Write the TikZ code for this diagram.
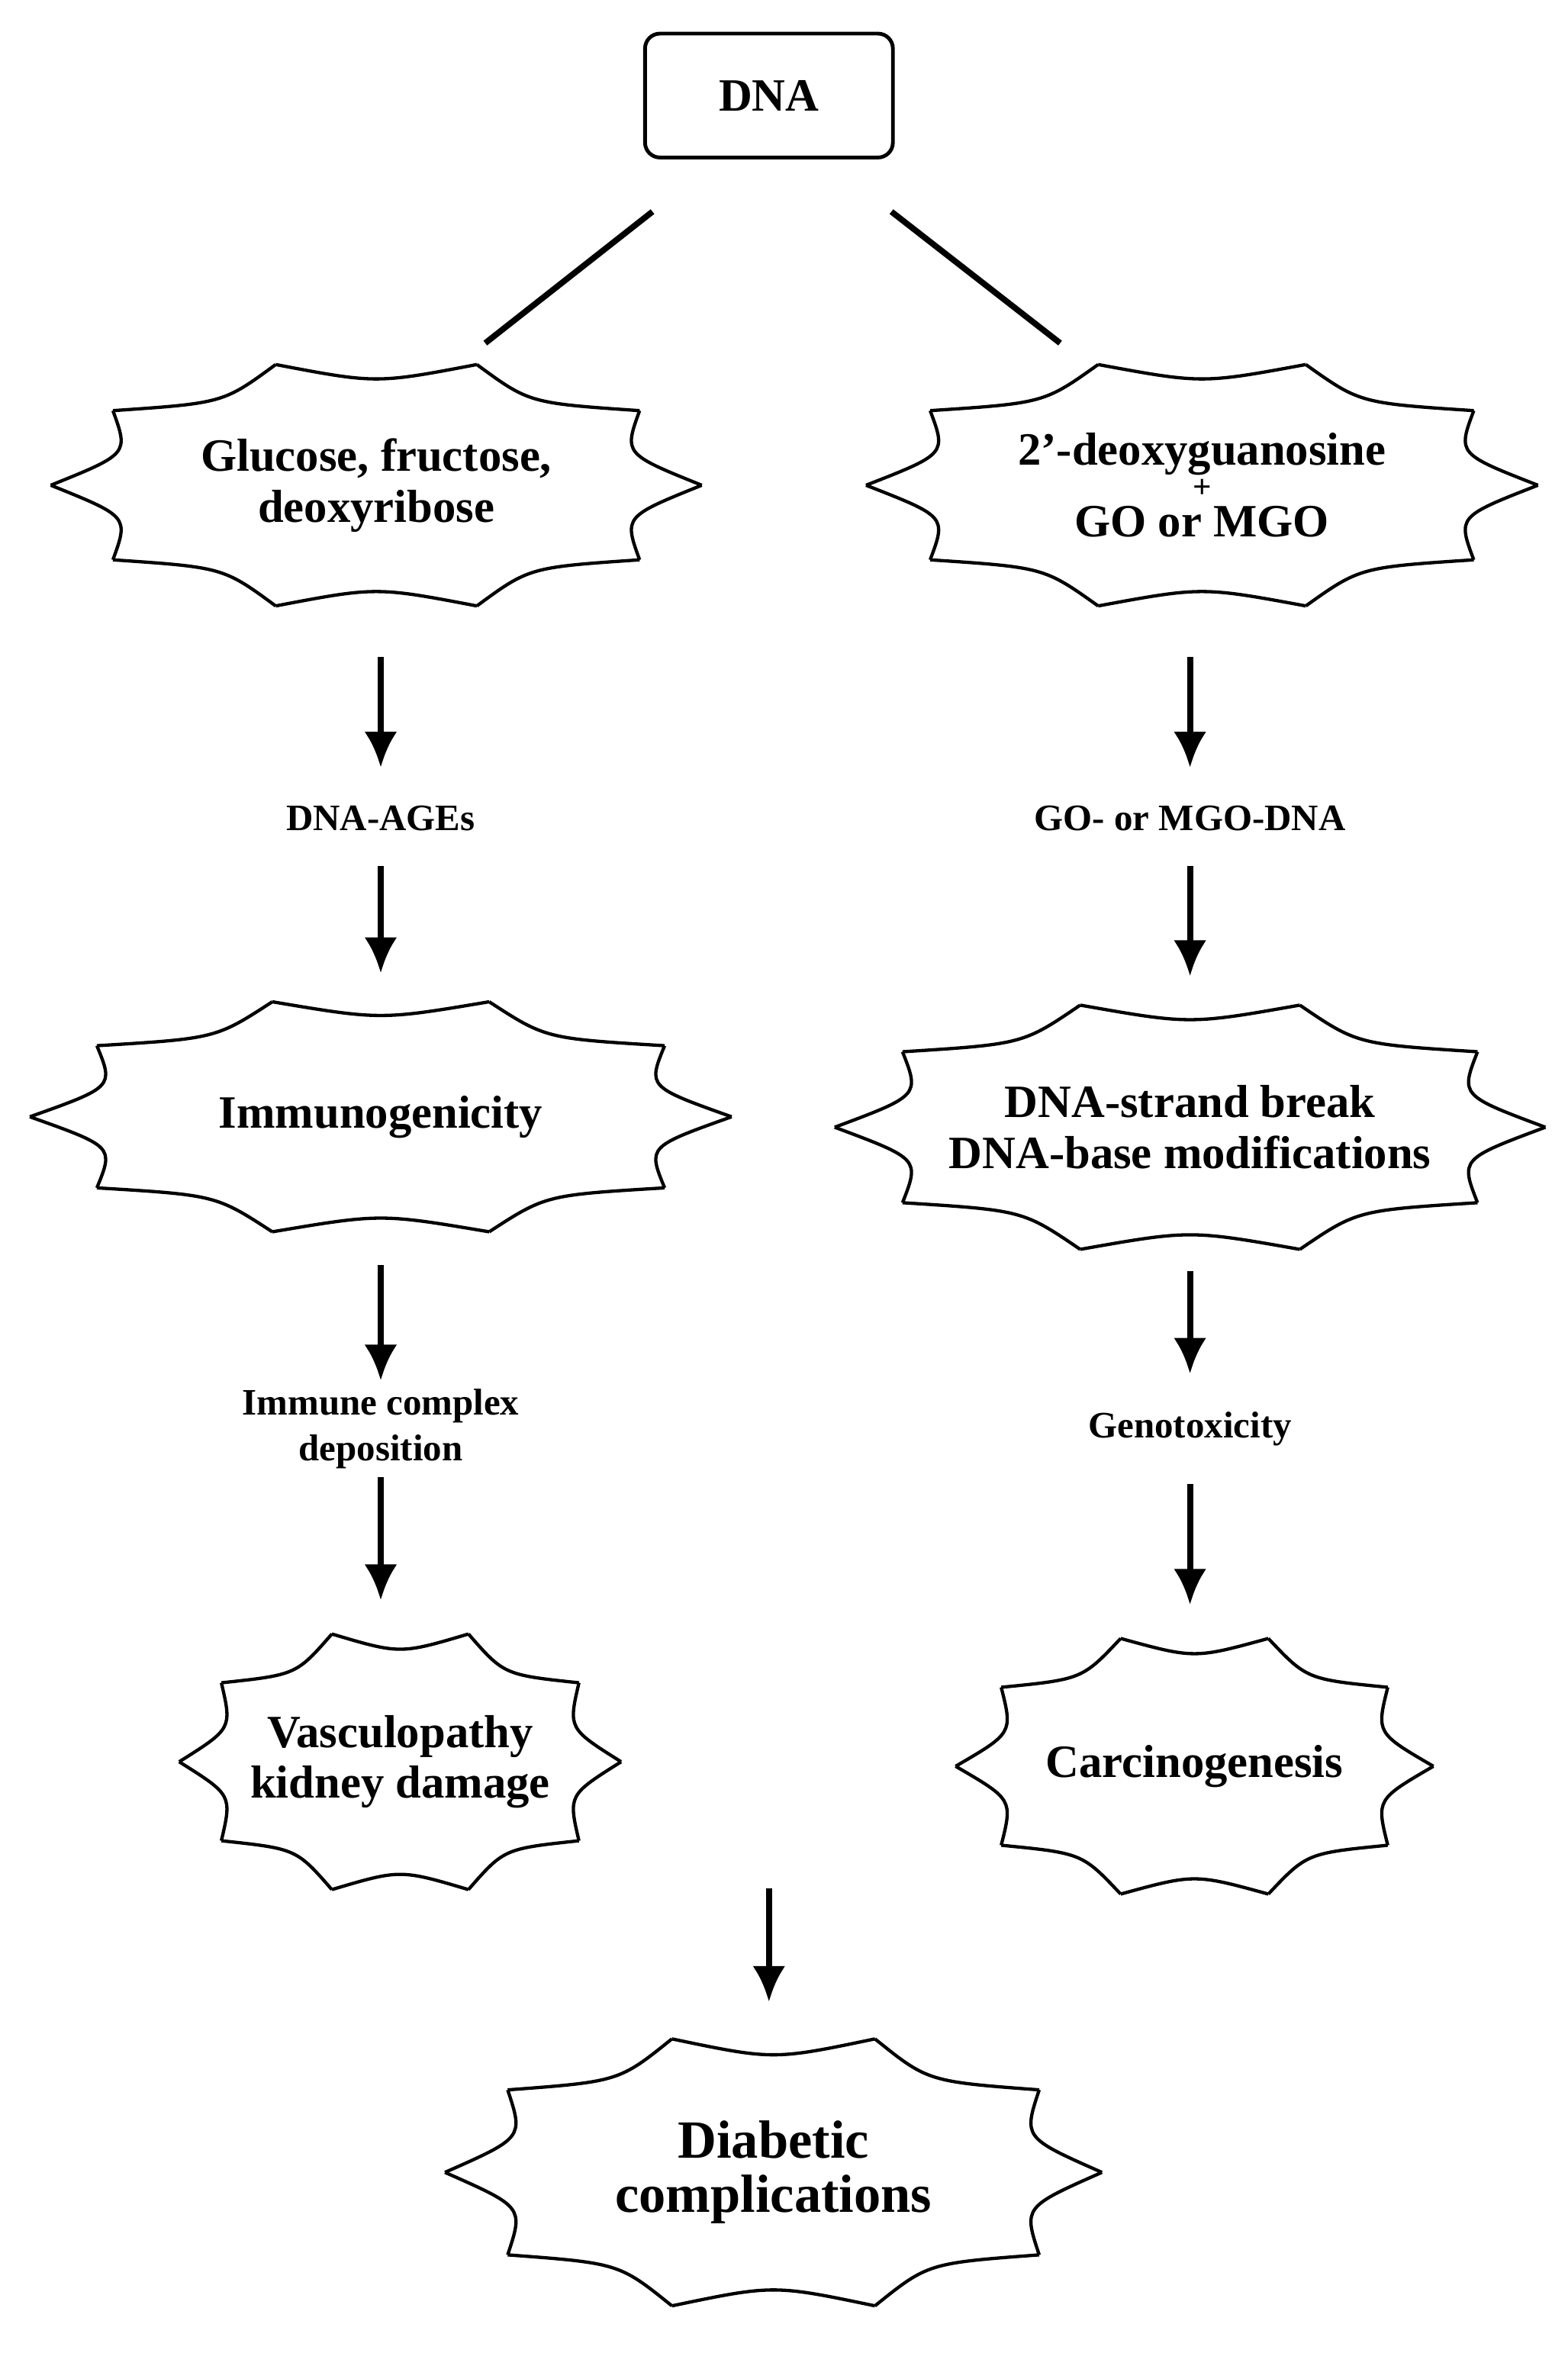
\documentclass[tikz,border=0pt]{standalone}
\usepackage{fontspec}
\setmainfont{Liberation Serif}
\usetikzlibrary{shapes.geometric}
\usetikzlibrary{arrows.meta}
\usetikzlibrary{calc}
\tikzset{
  box/.style={ellipse, inner sep=0pt, align=center, font=\fontsize{31}{34}\selectfont\bfseries},
  lab/.style={align=center, font=\fontsize{25}{31}\selectfont\bfseries},
  arr/.style={line width=4pt, -{Latex[length=24pt,width=22pt]}},
}
% starburst outline with 10 tips around a centre
\newcommand\burst[3]{%
  \foreach \k in {0,...,9}{
    \draw[line width=2.2pt] ($(#1)+({#2*cos(36*\k)},{#3*sin(36*\k)})$)
      .. controls ($(#1)+({0.8*#2*cos(36*\k+18)},{0.8*#3*sin(36*\k+18)})$)
      .. ($(#1)+({#2*cos(36*\k+36)},{#3*sin(36*\k+36)})$);
  }}
\begin{document}
\begin{tikzpicture}[x=1pt,y=-1pt]
\useasboundingbox (0,0) rectangle (1050,1576);

%Shape: DNA box
\node[draw, line width=2.5pt, rounded corners=10pt, minimum width=166pt, minimum height=83pt,
  font=\fontsize{31}{34}\selectfont\bfseries] (dna) at (515,64) {DNA};

%Left branch
\coordinate (c1) at (252,325);
\node[box, minimum width=436pt, minimum height=170pt] (gluc) at (c1) {Glucose, fructose,\\deoxyribose};
\burst{c1}{218}{85}
\node[lab] (ages) at (255,548) {DNA-AGEs};
\coordinate (c2) at (255,748);
\node[box, minimum width=470pt, minimum height=162pt] (immu) at (c2) {Immunogenicity};
\burst{c2}{235}{81}
\node[lab] (immc) at (255,957) {Immune complex\\deposition};
\coordinate (c3) at (268,1180);
\node[box, minimum width=290pt, minimum height=180pt] (vasc) at (c3) {Vasculopathy\\kidney damage};
\burst{c3}{148}{90}

%Right branch
\coordinate (c4) at (805,325);
\node[box, minimum width=450pt, minimum height=170pt] (deox) at (c4) {2'-deoxyguanosine\\[-12pt]{\fontsize{22}{22}\selectfont +}\\[-8pt]GO or MGO};
\burst{c4}{225}{85}
\node[lab] (mgo) at (797,548) {GO- or MGO-DNA};
\coordinate (c5) at (797,755);
\node[box, minimum width=476pt, minimum height=172pt] (brk) at (c5) {DNA-strand break\\DNA-base modifications};
\burst{c5}{238}{86}
\node[lab] (geno) at (797,957) {Genotoxicity};
\coordinate (c6) at (800,1183);
\node[box, minimum width=320pt, minimum height=180pt] (carc) at (c6) {Carcinogenesis};
\burst{c6}{160}{90}

%Bottom
\coordinate (c7) at (518,1455);
\node[box, minimum width=440pt, minimum height=188pt, font=\fontsize{36}{36}\selectfont\bfseries] (diab) at (c7) {Diabetic\\complications};
\burst{c7}{220}{94}

%Connectors
\draw[line width=4pt] ($(dna.south)+(-78,35)$) -- ($(gluc.north)+(73,-10)$);
\draw[line width=4pt] ($(dna.south)+(82,35)$) -- ($(deox.north)+(-95,-10)$);
\draw[arr, shorten <=30pt, shorten >=22pt] (gluc.south-|ages) -- (ages);
\draw[arr, shorten <=20pt, shorten >=15pt] (ages) -- (immu.north-|ages);
\draw[arr, shorten <=18pt, shorten >=2pt] (immu.south-|immc) -- (immc.north);
\draw[arr, shorten <=2pt, shorten >=18pt] (immc.south) -- (vasc.north-|immc);
\draw[arr, shorten <=30pt, shorten >=22pt] (deox.south-|mgo) -- (mgo);
\draw[arr, shorten <=20pt, shorten >=15pt] (mgo) -- (brk.north-|mgo);
\draw[arr, shorten <=10pt, shorten >=22pt] (brk.south-|geno) -- (geno);
\draw[arr, shorten <=22pt, shorten >=18pt] (geno) -- (carc.north-|geno);
\coordinate (top) at (515,1265);
\draw[arr, shorten >=20pt] (top) -- (diab.north-|top);
\end{tikzpicture}
\end{document}
